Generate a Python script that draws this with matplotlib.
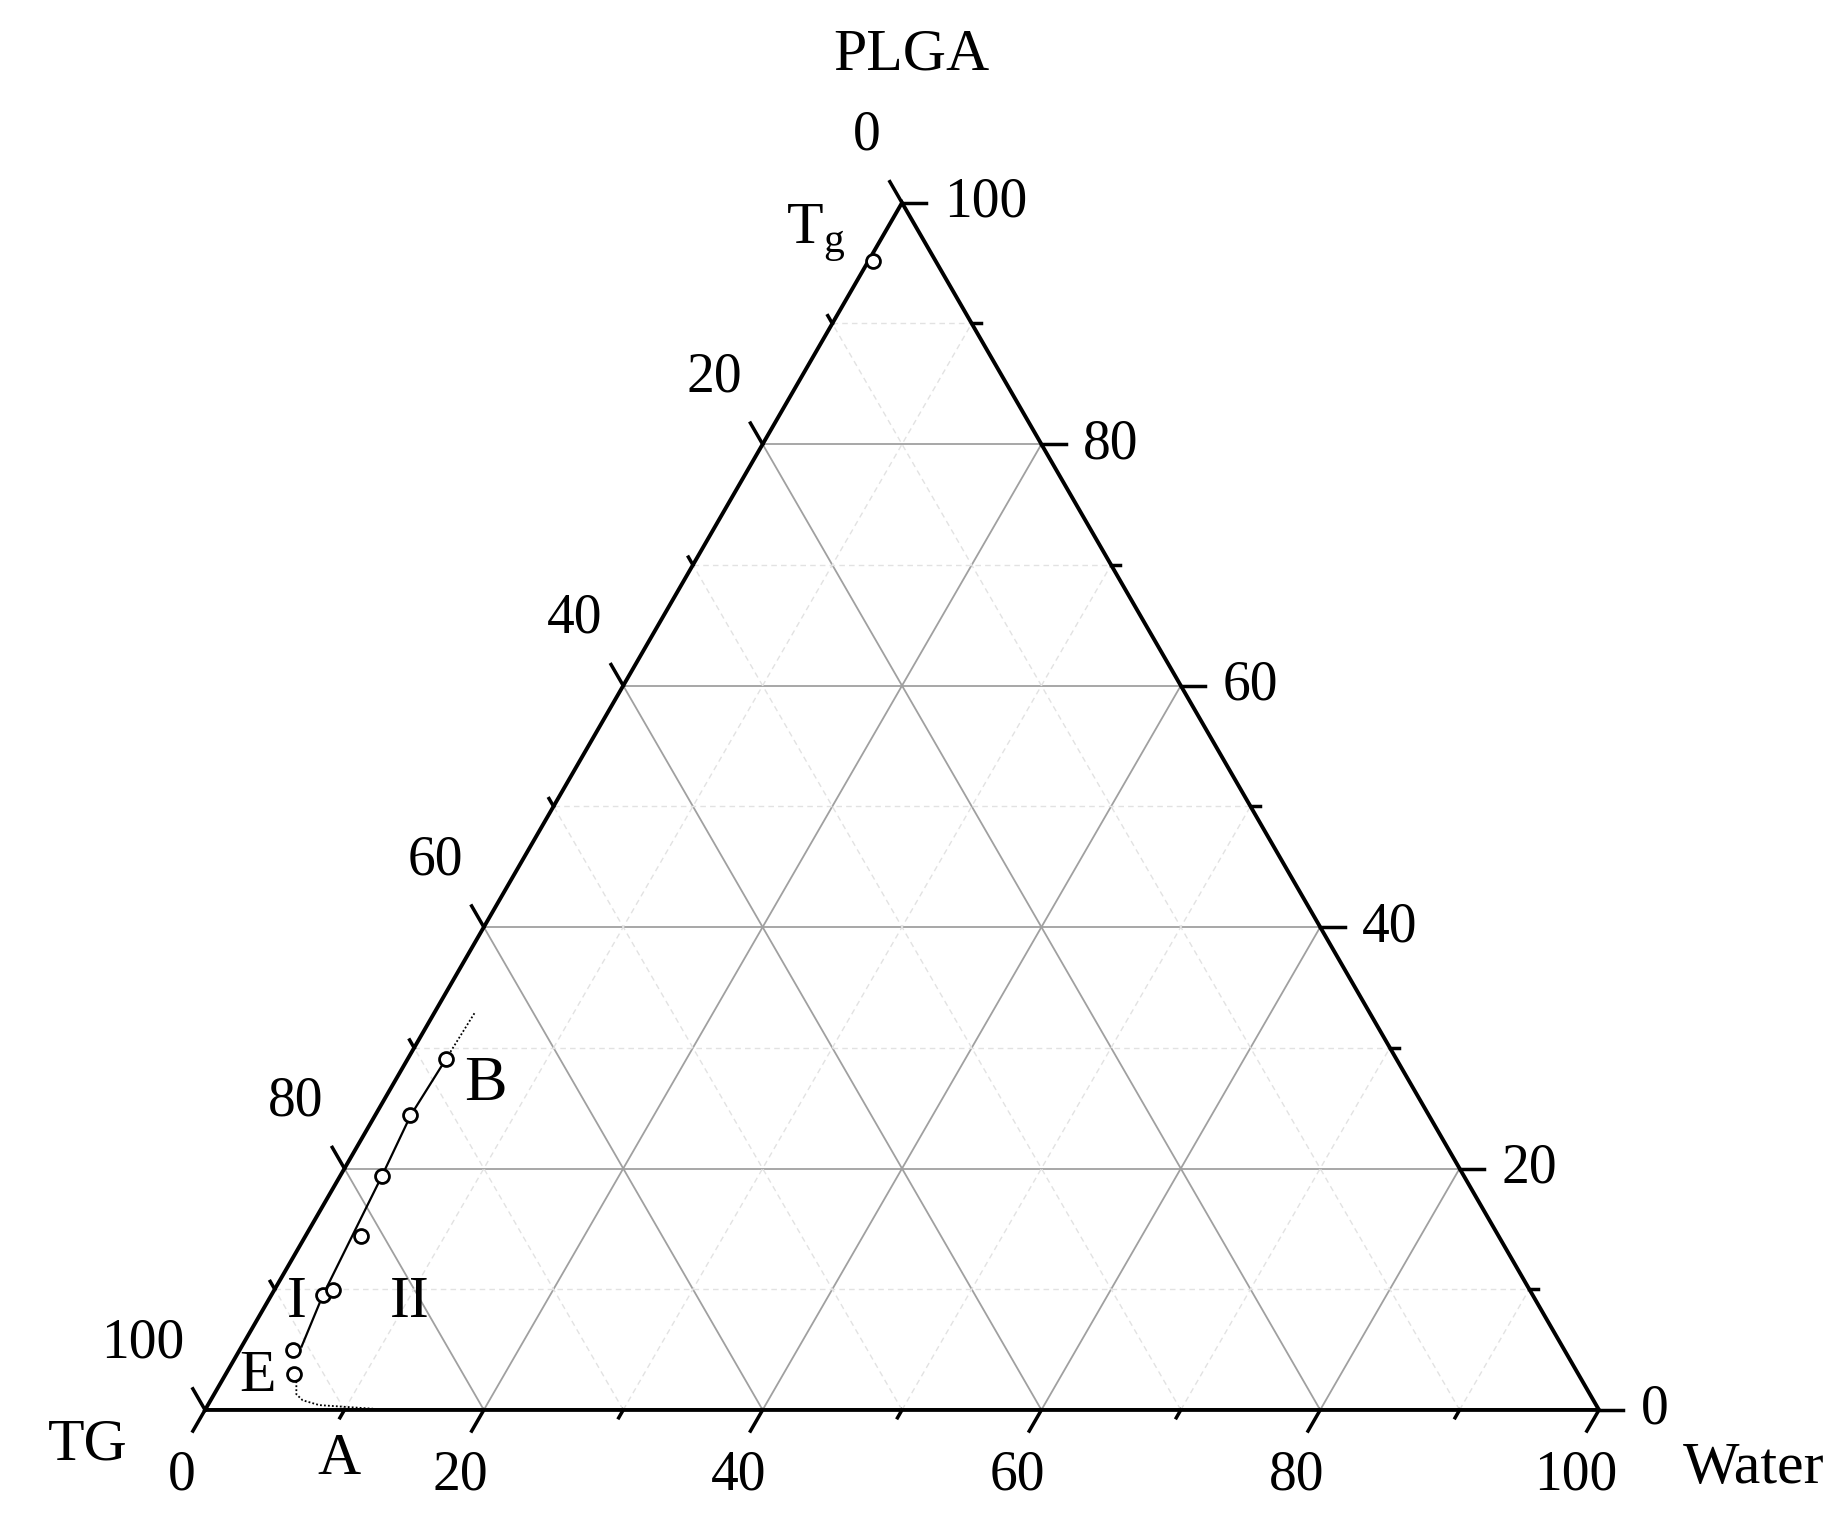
import numpy as np
import matplotlib
matplotlib.use("Agg")
import matplotlib.pyplot as plt

plt.rcParams['font.family'] = ['Liberation Serif', 'DejaVu Serif']

# Composition data (percent Water, percent PLGA; TG = rest)
pts_water = [0.3, 3.8, 4.9, 3.7, 4.2, 4.0, 3.0, 2.5, 2.75]
pts_plga = [95.2, 5.0, 3.0, 9.5, 9.95, 14.4, 19.35, 24.4, 29.1]

# solid boundary line
line_water = [4.3, 3.7, 3.0, 2.55, 2.75]
line_plga = [5.25, 9.5, 19.35, 24.4, 29.1]

# dotted extensions
dot_up_water = [2.75, 2.9]
dot_up_plga = [29.1, 33.0]
dot_low_water = [4.9, 5.3, 5.9, 6.6, 8.0, 12.0]
dot_low_plga = [3.0, 2.5, 1.3, 0.8, 0.4, 0.1]

ticks = [0, 20, 40, 60, 80, 100]
major = [20, 40, 60, 80]
minor = [10, 30, 50, 70, 90]

H = np.sqrt(3) / 2


def cart(w, p):
    w = np.asarray(w, float)
    p = np.asarray(p, float)
    return w + p / 2, p * H


fig = plt.figure(figsize=(18.46, 15.34), dpi=100)
ax = fig.add_axes([0, 0, 1, 1])
ax.set_xlim(-14.71, 117.72)
ax.set_ylim(-8.90, 101.15)
ax.axis('off')

# grid lines
for v in major + minor:
    if v in major:
        kw = dict(color='#a0a0a0', lw=1.3, ls='-')
    else:
        kw = dict(color='#e2e2e2', lw=1.0, ls=(0, (4, 3)))
    # PLGA constant
    x, y = cart([0, 100 - v], [v, v])
    ax.plot(x, y, zorder=1, **kw)
    # Water constant
    x, y = cart([v, v], [0, 100 - v])
    ax.plot(x, y, zorder=1, **kw)
    # TG constant
    x, y = cart([100 - v, 0], [0, 100 - v])
    ax.plot(x, y, zorder=1, **kw)

# triangle border
x, y = cart([0, 100, 0, 0], [0, 0, 100, 0])
ax.plot(x, y, color='black', lw=2.8, zorder=3, solid_joinstyle='miter')

# ticks
for v in range(0, 101, 10):
    L = 1.75 if v % 20 == 0 else 0.65
    # bottom (Water)
    x0, y0 = cart(v, 0)
    ax.plot([x0, x0 - 0.5 * L], [y0, y0 - H * L], color='black', lw=2.5, zorder=3)
    # right (PLGA)
    x0, y0 = cart(100 - v, v)
    ax.plot([x0, x0 + L], [y0, y0], color='black', lw=2.5, zorder=3)
    # left (TG)
    x0, y0 = cart(0, 100 - v)
    ax.plot([x0, x0 - 0.5 * L], [y0, y0 + H * L], color='black', lw=2.5, zorder=3)

fs = 40
for v in ticks:
    x0, y0 = cart(v, 0)
    ax.text(x0 - 1.69, y0 - 4.73, str(v), ha='center', va='center', fontsize=fs)
    x0, y0 = cart(100 - v, v)
    ax.text(x0 + 3.0, y0, str(v), ha='left', va='center', fontsize=fs)
    x0, y0 = cart(0, 100 - v)
    ax.text(x0 - 1.5, y0 + 4.8, str(v), ha='right', va='center', fontsize=fs)

# curves
x, y = cart(line_water, line_plga)
ax.plot(x, y, color='black', lw=1.6, zorder=4)
x, y = cart(dot_up_water, dot_up_plga)
ax.plot(x, y, color='black', lw=1.3, ls=(0, (1, 1.2)), zorder=4)
x, y = cart(dot_low_water, dot_low_plga)
ax.plot(x, y, color='black', lw=1.3, ls=(0, (1, 1.2)), zorder=4)

x, y = cart(pts_water, pts_plga)
ax.plot(x, y, ls='none', marker='o', ms=10, mfc='white', mec='black', mew=2.0, zorder=5)

# labels
lab = 43
ax.text(50.7, 97.2, 'PLGA', ha='center', va='center', fontsize=lab)
ax.text(-8.39, -2.58, 'TG', ha='center', va='center', fontsize=lab)
ax.text(111.1, -4.23, 'Water', ha='center', va='center', fontsize=lab)
ax.text(43.76, 84.43, r'T$_\mathregular{g}$', ha='center', va='center', fontsize=lab)
ax.text(20.09, 23.31, 'B', ha='center', va='center', fontsize=lab + 3)
ax.text(6.61, 7.68, 'I', ha='center', va='center', fontsize=lab)
ax.text(14.7, 7.68, 'II', ha='center', va='center', fontsize=lab)
ax.text(3.74, 2.37, 'E', ha='center', va='center', fontsize=lab)
ax.text(9.6, -3.59, 'A', ha='center', va='center', fontsize=lab)

fig.savefig('out.png', dpi=100)
